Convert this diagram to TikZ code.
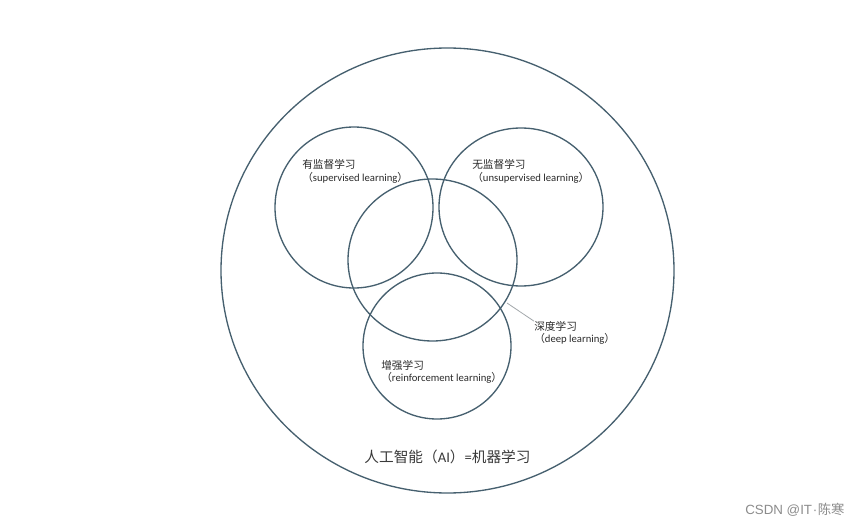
\documentclass[tikz,border=0pt]{standalone}
\usepackage{fontspec}
\setmainfont{Carlito}
\newfontfamily\cjk{Noto Sans CJK SC}
\newfontfamily\marksans{Liberation Sans}
\usepackage{tikz}
\usepackage{xcolor}
\definecolor{RingBlue}{HTML}{46606F}
\definecolor{LabelInk}{HTML}{2A2A2A}
\definecolor{TitleInk}{HTML}{3A3A3A}
\definecolor{LeaderGray}{HTML}{A3A8AC}
\definecolor{MarkGray}{HTML}{8C8C8C}
\newcommand{\zh}[1]{{\cjk #1}}

\begin{document}
\begin{tikzpicture}[x=0.75pt,y=-0.75pt,
  ring/.style={line width=1pt,RingBlue},
  lbl/.style={anchor=west,align=left,inner sep=0pt,LabelInk,font=\fontsize{8}{9.2}\selectfont},
  leader/.style={line width=0.6pt,LeaderGray}]
  \fill[white] (0,0) rectangle (861,528);
  \useasboundingbox (0,0) rectangle (861,528);
  \draw[ring] (447.5,270.5) ellipse [x radius=226.5, y radius=222.5];
  \draw[ring] (354,207.5) ellipse [x radius=79, y radius=80.5];
  \draw[ring] (521,207) ellipse [x radius=82, y radius=79];
  \draw[ring] (432.5,260) ellipse [x radius=84.5, y radius=81];
  \draw[ring] (437,346) ellipse [x radius=74, y radius=73];
  \node[lbl] (sup) at (302,171.5) {\zh{有监督学习}\\\zh{（}supervised learning\zh{）}};
  \node[lbl] (unsup) at (472,171.5) {\zh{无监督学习}\\\zh{（}unsupervised learning\zh{）}};
  \node[lbl] (deep) at (534,333) {\zh{深度学习}\\\zh{（}deep learning\zh{）}};
  \node[lbl] (reinf) at (381,372) {\zh{增强学习}\\\zh{（}reinforcement learning\zh{）}};
  \coordinate (deeptip) at (507,303);
  \draw[leader] (deeptip) -- (deep.north west);
  \node[TitleInk,inner sep=0pt,font=\fontsize{11}{13}\selectfont] (ai) at (447.5,456.5)
    {\zh{人工智能（}AI\zh{）}=\zh{机器学习}};
  \node[anchor=west,inner sep=0pt,MarkGray,font=\fontsize{10}{12}\selectfont] (mark) at (745,510)
    {\marksans CSDN @IT\kern0.5pt·\kern0.5pt\zh{陈寒}};
\end{tikzpicture}
\end{document}
